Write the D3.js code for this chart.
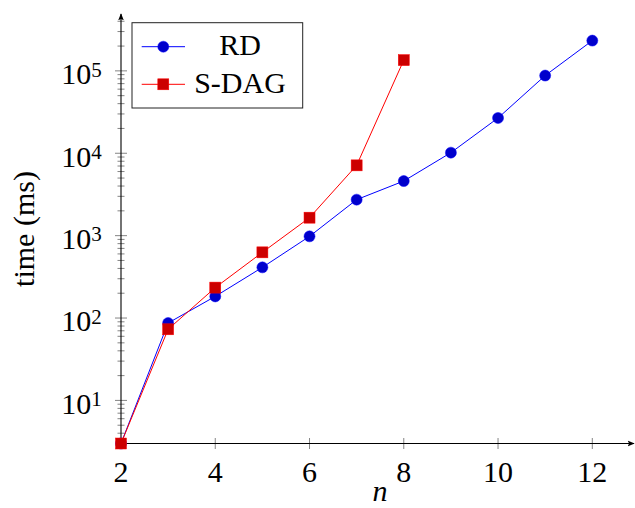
<!DOCTYPE html>
<html>
<head>
<meta charset="utf-8">
<script src="https://cdn.jsdelivr.net/npm/d3@7"></script>
<style>
    body { margin: 0; background: #fff; }
    svg text { font-family: "Liberation Serif", "Tinos", "Times New Roman", "DejaVu Serif", serif; fill: #000; }
</style>
</head>
<body>
<div id="chart"></div>
<script>
const nValues = [2, 3, 4, 5, 6, 7, 8, 9, 10, 11, 12]
const rdTimes = [3, 87, 183, 412, 980, 2735, 4600, 10170, 26800, 87700, 233000]
const sdagN = [2, 3, 4, 5, 6, 7, 8]
const sdagTimes = [3, 73, 234, 627, 1652, 7130, 135000]
const xTicks = [2, 4, 6, 8, 10, 12]
const yExponents = [1, 2, 3, 4, 5]
const seriesNames = ['RD', 'S-DAG']

drawChart()
function drawChart() {
    const dim = { width: 635, height: 508 }

    const svg = d3.select('#chart').append('svg')
        .attr('width', dim.width).attr('height', dim.height)

    const xScale = d3.scaleLinear().domain([2, 12]).range([121, 592.3])
    const yScale = d3.scaleLog().domain([3, 4.9e5]).range([443.5, 14])

    const x0 = xScale(2), y0 = yScale(3)
    const xEnd = 634, yTop = 14

    const defs = svg.append('defs')
    defs.append('marker').attr('id', 'arrow')
        .attr('viewBox', '0 0 10 10').attr('refX', 9).attr('refY', 5)
        .attr('markerWidth', 7).attr('markerHeight', 7)
        .attr('markerUnits', 'userSpaceOnUse')
        .attr('orient', 'auto')
        .append('path').attr('d', 'M0,1 L10,5 L0,9 L2,5 Z').attr('fill', '#000')

    // minor y ticks
    const minor = []
    for (let e = 0; e <= 5; e++)
        for (let m = 2; m <= 9; m++) {
            const v = m * Math.pow(10, e)
            if (v > 3 && v < 4.9e5) minor.push(v)
        }
    const ticks = svg.append('g').attr('stroke', '#666').attr('stroke-width', 0.8)
    ticks.selectAll('.minor').data(minor).join('line')
        .attr('x1', x0 - 3.5).attr('x2', x0 + 3.5)
        .attr('y1', d => yScale(d)).attr('y2', d => yScale(d))
    ticks.selectAll('.major').data(yExponents).join('line')
        .attr('x1', x0 - 6).attr('x2', x0 + 6)
        .attr('y1', d => yScale(Math.pow(10, d))).attr('y2', d => yScale(Math.pow(10, d)))
    ticks.selectAll('.xtick').data(xTicks.slice(1)).join('line')
        .attr('x1', d => xScale(d)).attr('x2', d => xScale(d))
        .attr('y1', y0 - 5.5).attr('y2', y0 + 5.5)

    // axes
    svg.append('line')
        .attr('x1', x0).attr('x2', xEnd).attr('y1', y0).attr('y2', y0)
        .attr('stroke', '#000').attr('stroke-width', 1.1)
        .attr('marker-end', 'url(#arrow)')
    svg.append('line')
        .attr('x1', x0).attr('x2', x0).attr('y1', y0).attr('y2', yTop)
        .attr('stroke', '#000').attr('stroke-width', 1.1)
        .attr('marker-end', 'url(#arrow)')

    // tick labels
    svg.selectAll('.xlabel').data(xTicks).join('text')
        .attr('x', d => xScale(d)).attr('y', 482.3)
        .attr('text-anchor', 'middle').style('font-size', '30px')
        .text(d => d)
    const yl = svg.selectAll('.ylabel').data(yExponents).join('text')
        .attr('x', 101.7).attr('y', d => yScale(Math.pow(10, d)) + 13.3)
        .attr('text-anchor', 'end').style('font-size', '30px')
    yl.append('tspan').text('10')
    yl.append('tspan').attr('dy', -7.6).style('font-size', '21px').text(d => d)

    // axis titles
    svg.append('text').attr('transform', 'translate(34,229) rotate(-90)')
        .attr('text-anchor', 'middle').style('font-size', '30px')
        .text('time (ms)')
    svg.append('text').attr('x', 380).attr('y', 501)
        .attr('text-anchor', 'middle').style('font-size', '30px').style('font-style', 'italic')
        .text('n')

    // series
    const rd = nValues.map((n, i) => [n, rdTimes[i]])
    const sdag = sdagN.map((n, i) => [n, sdagTimes[i]])
    const line = d3.line().x(d => xScale(d[0])).y(d => yScale(d[1]))

    svg.append('path').datum(rd).attr('d', line)
        .attr('fill', 'none').attr('stroke', '#0000ff').attr('stroke-width', 1)
    svg.selectAll('.rd').data(rd).join('circle')
        .attr('cx', d => xScale(d[0])).attr('cy', d => yScale(d[1]))
        .attr('r', 5.5).attr('fill', '#0000cc').attr('stroke', '#0000ff').attr('stroke-width', 0.5)

    svg.append('path').datum(sdag).attr('d', line)
        .attr('fill', 'none').attr('stroke', '#ff0000').attr('stroke-width', 1)
    svg.selectAll('.sdag').data(sdag).join('rect')
        .attr('x', d => xScale(d[0]) - 5.5).attr('y', d => yScale(d[1]) - 5.5)
        .attr('width', 11).attr('height', 11)
        .attr('fill', '#cc0000').attr('stroke', '#ff0000').attr('stroke-width', 0.5)

    // legend
    const legend = svg.append('g')
    legend.append('rect')
        .attr('x', 132).attr('y', 22.7).attr('width', 170.7).attr('height', 85.3)
        .attr('fill', '#fff').attr('stroke', '#222').attr('stroke-width', 1)
    const rows = [46.7, 84.3]
    const lineColors = ['#0000ff', '#ff0000']
    const fillColors = ['#0000cc', '#cc0000']
    seriesNames.forEach((name, i) => {
        legend.append('line')
            .attr('x1', 141.7).attr('x2', 185).attr('y1', rows[i]).attr('y2', rows[i])
            .attr('stroke', lineColors[i]).attr('stroke-width', 1)
        if (i == 0)
            legend.append('circle').attr('cx', 163.3).attr('cy', rows[i]).attr('r', 5.5)
                .attr('fill', fillColors[i]).attr('stroke', lineColors[i]).attr('stroke-width', 0.5)
        else
            legend.append('rect').attr('x', 163.3 - 5.5).attr('y', rows[i] - 5.5)
                .attr('width', 11).attr('height', 11)
                .attr('fill', fillColors[i]).attr('stroke', lineColors[i]).attr('stroke-width', 0.5)
        legend.append('text')
            .attr('x', 240).attr('y', rows[i] + 8.6)
            .attr('text-anchor', 'middle').style('font-size', '30px')
            .text(name)
    })
}
</script>
</body>
</html>
